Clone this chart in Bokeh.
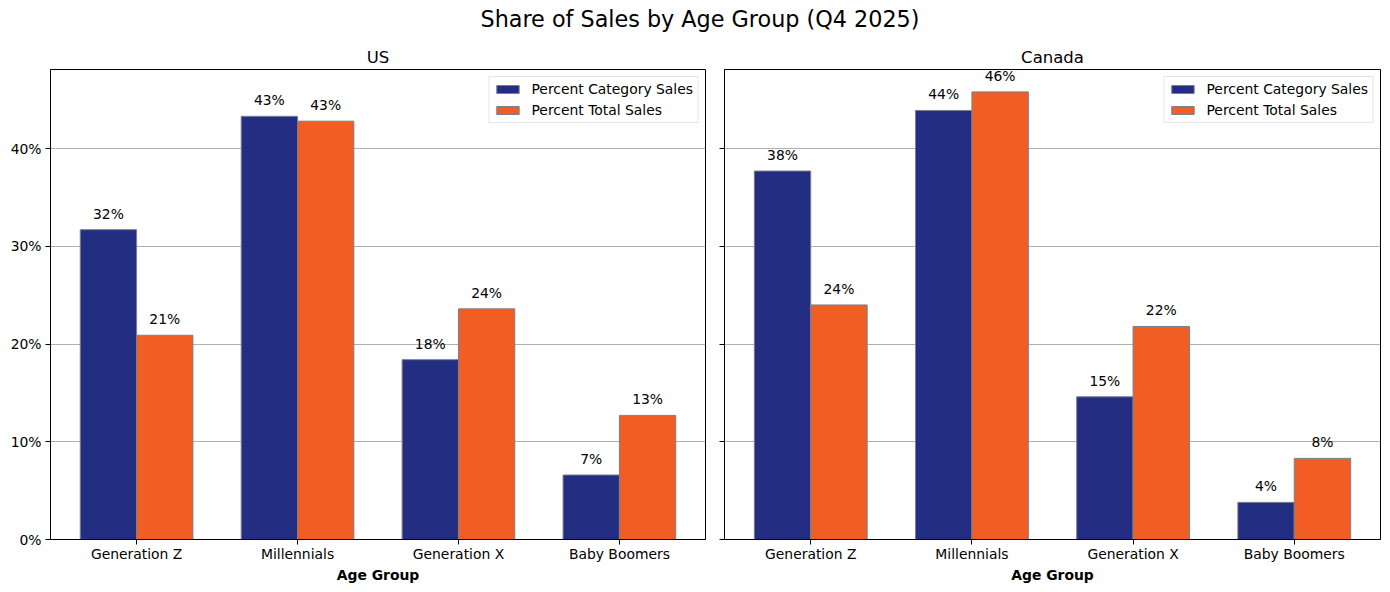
from bokeh.plotting import figure
from bokeh.models import (ColumnDataSource, FactorRange, LabelSet, Range1d, Div,
                          PrintfTickFormatter, FixedTicker, Legend)
from bokeh.layouts import column, row
from bokeh.transform import dodge
from bokeh.core.properties import value
from bokeh.embed import file_html
from bokeh.resources import INLINE

categories = ["Generation Z", "Millennials", "Generation X", "Baby Boomers"]
us_category = [31.7, 43.3, 18.4, 6.6]
us_total = [20.9, 42.8, 23.6, 12.7]
ca_category = [37.7, 43.9, 14.6, 3.8]
ca_total = [24.0, 45.8, 21.8, 8.3]
y_ticks = [0, 10, 20, 30, 40]

NAVY = "#232D82"
ORANGE = "#F15D23"
EDGE = "#7a7f8c"
FONT = "DejaVu Sans"
FS = "13.9px"

ymax = max(us_category + us_total + ca_category + ca_total) * 1.05
BAR_W = 0.35


def make_panel(title, cat_vals, tot_vals, show_ylabels, frame_w, border_left, border_right):
    src = ColumnDataSource(dict(
        cat=categories,
        cv=cat_vals, tv=tot_vals,
        cl=[f"{v:.0f}%" for v in cat_vals],
        tl=[f"{v:.0f}%" for v in tot_vals],
    ))
    p = figure(x_range=FactorRange(factors=categories, range_padding=0.0175),
               y_range=Range1d(0, ymax), frame_width=frame_w, frame_height=470,
               output_backend="svg", toolbar_location=None,
               min_border_left=border_left, min_border_right=border_right,
               min_border_top=29, min_border_bottom=40)
    p.title.text = title
    p.title.align = "center"
    p.title.text_font = FONT
    p.title.text_font_size = "16.5px"
    p.title.text_font_style = "normal"
    p.title.text_color = "black"
    p.title.standoff = 6

    r1 = p.vbar(x=dodge("cat", -BAR_W / 2, range=p.x_range), top="cv", width=BAR_W,
                source=src, fill_color=NAVY, line_color=EDGE, line_width=1)
    r2 = p.vbar(x=dodge("cat", BAR_W / 2, range=p.x_range), top="tv", width=BAR_W,
                source=src, fill_color=ORANGE, line_color=EDGE, line_width=1)

    for xoff, ycol, tcol in [(-BAR_W / 2, "cv", "cl"), (BAR_W / 2, "tv", "tl")]:
        lbl = LabelSet(x=dodge("cat", xoff, range=p.x_range), y=ycol, text=tcol,
                       source=src, text_align="center", text_baseline="bottom",
                       y_offset=8, text_font=value(FONT), text_font_size=value(FS),
                       text_color="black")
        p.add_layout(lbl)

    legend = Legend(items=[("Percent Category Sales", [r1]), ("Percent Total Sales", [r2])],
                    location="top_right")
    legend.label_text_font = FONT
    legend.label_text_font_size = FS
    legend.label_text_color = "black"
    legend.glyph_width = 28
    legend.glyph_height = 10
    legend.label_standoff = 10
    legend.label_height = 14
    legend.spacing = 5
    legend.padding = 4
    legend.margin = 7
    legend.border_line_color = "#cccccc"
    legend.border_line_width = 1
    legend.background_fill_alpha = 0.8
    p.add_layout(legend)

    p.outline_line_color = "black"
    p.outline_line_width = 1
    p.outline_line_alpha = 1

    p.xgrid.grid_line_color = None
    p.ygrid.grid_line_color = "#b0b0b0"
    p.ygrid.grid_line_width = 1
    p.ygrid.ticker = FixedTicker(ticks=y_ticks)

    p.yaxis.ticker = FixedTicker(ticks=y_ticks)
    p.yaxis.formatter = PrintfTickFormatter(format="%d%%")
    p.yaxis.minor_tick_line_color = None
    p.yaxis.major_tick_in = 0
    p.yaxis.major_tick_out = 5
    p.yaxis.major_label_standoff = 4
    p.yaxis.major_label_text_font = FONT
    p.yaxis.major_label_text_font_size = FS
    p.yaxis.major_label_text_color = "black"
    p.yaxis.axis_line_color = "black"
    if not show_ylabels:
        p.yaxis.major_label_overrides = {t: "" for t in y_ticks}
        p.yaxis.major_label_standoff = 0

    p.xaxis.axis_label = "Age Group"
    p.xaxis.axis_label_text_font = FONT
    p.xaxis.axis_label_text_font_size = FS
    p.xaxis.axis_label_text_font_style = "bold"
    p.xaxis.axis_label_text_color = "black"
    p.xaxis.axis_label_standoff = 2
    p.xaxis.major_tick_in = 0
    p.xaxis.major_tick_out = 5
    p.xaxis.major_label_standoff = 1
    p.xaxis.major_label_text_font = FONT
    p.xaxis.major_label_text_font_size = FS
    p.xaxis.major_label_text_color = "black"
    p.xaxis.axis_line_color = "black"
    p.xaxis.minor_tick_line_color = None
    return p


p1 = make_panel("US", us_category, us_total, True, 655, 50, 10)
p2 = make_panel("Canada", ca_category, ca_total, False, 656, 9, 10)

title = Div(text="Share of Sales by Age Group (Q4 2025)", width=1390, height=30,
            styles={"text-align": "center", "font-size": "22.3px", "font-family": FONT,
                    "line-height": "28px", "color": "black", "width": "1390px"})

layout = column(title, row(p1, p2))
open("out.html", "w").write(file_html(layout, INLINE))
